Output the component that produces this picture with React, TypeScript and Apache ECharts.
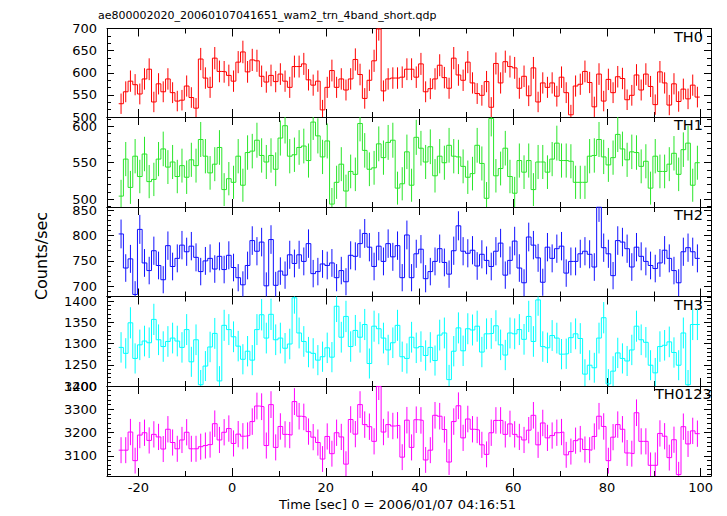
import React, { useEffect, useRef } from "react";
import * as echarts from "echarts";

const TITLE = "ae800002020_20060107041651_wam2_trn_4band_short.qdp";
const X_NAME = "Time [sec] 0 = 2006/01/07 04:16:51";
const Y_NAME = "Counts/sec";

// time bins (sec): first bin left edge and width
const BIN_START = -24.2;
const BIN_WIDTH = 1;
const X_MIN = -26.7;
const X_MAX = 102.2;

const th0 = [530, 557, 581, 573, 552, 586, 608, 534, 575, 557, 586, 555, 536, 538, 570, 544, 520, 631, 588, 567,
  633, 603, 602, 594, 581, 624, 647, 602, 629, 627, 592, 579, 594, 580, 597, 581, 567, 614, 614, 620,
  584, 572, 581, 516, 567, 605, 567, 586, 561, 586, 630, 596, 542, 583, 627, 699, 559, 586, 588, 588,
  590, 608, 608, 590, 620, 557, 564, 586, 617, 589, 565, 633, 595, 583, 624, 577, 553, 549, 580, 522,
  621, 577, 625, 614, 611, 565, 592, 548, 611, 534, 577, 567, 577, 547, 590, 555, 505, 570, 574, 603,
  578, 523, 597, 536, 585, 555, 591, 587, 539, 549, 595, 561, 597, 569, 528, 602, 577, 527, 575, 535,
  563, 541, 572, 545];

const th1 = [504, 555, 516, 559, 531, 562, 524, 527, 555, 569, 544, 551, 531, 546, 530, 554, 546, 582, 559, 536,
  548, 571, 513, 528, 523, 559, 519, 564, 566, 581, 560, 551, 560, 541, 584, 601, 559, 561, 571, 573,
  553, 606, 587, 558, 580, 493, 523, 548, 511, 538, 534, 604, 567, 541, 543, 576, 557, 578, 581, 515,
  521, 565, 519, 585, 570, 551, 572, 532, 559, 550, 574, 559, 558, 545, 530, 535, 574, 549, 501, 611,
  532, 542, 570, 531, 508, 553, 537, 553, 513, 551, 551, 537, 555, 577, 553, 553, 552, 523, 523, 523,
  559, 560, 582, 558, 547, 557, 589, 569, 554, 565, 564, 545, 552, 515, 559, 538, 538, 548, 563, 534,
  568, 577, 519, 550];

const th2 = [803, 736, 754, 684, 812, 746, 731, 770, 741, 713, 780, 739, 755, 781, 768, 779, 757, 729, 750, 755,
  734, 759, 733, 761, 737, 717, 703, 741, 790, 769, 787, 701, 792, 702, 730, 722, 762, 745, 762, 749,
  784, 725, 729, 744, 741, 746, 717, 731, 709, 761, 759, 784, 804, 777, 739, 779, 749, 784, 758, 780,
  717, 801, 717, 764, 773, 715, 729, 749, 774, 747, 724, 770, 819, 769, 765, 771, 740, 763, 751, 739,
  769, 785, 722, 751, 789, 736, 707, 797, 781, 756, 708, 777, 755, 774, 779, 726, 749, 749, 764, 769,
  763, 738, 856, 776, 764, 721, 790, 787, 774, 738, 777, 759, 749, 741, 735, 746, 771, 755, 731, 707,
  768, 776, 768, 755];

const th3 = [1291, 1277, 1349, 1265, 1297, 1306, 1302, 1357, 1309, 1293, 1305, 1313, 1306, 1291, 1333, 1257, 1309, 1203, 1247, 1292,
  1324, 1212, 1343, 1333, 1316, 1294, 1263, 1282, 1261, 1333, 1368, 1313, 1369, 1309, 1313, 1289, 1299, 1408, 1325, 1305,
  1280, 1277, 1261, 1269, 1290, 1268, 1388, 1315, 1364, 1293, 1331, 1315, 1345, 1253, 1341, 1335, 1313, 1285, 1302, 1343,
  1269, 1265, 1315, 1290, 1293, 1272, 1291, 1260, 1320, 1325, 1215, 1282, 1337, 1283, 1335, 1332, 1341, 1280, 1323, 1324,
  1342, 1297, 1273, 1325, 1323, 1333, 1310, 1364, 1305, 1403, 1293, 1290, 1319, 1313, 1275, 1276, 1314, 1323, 1312, 1228,
  1249, 1243, 1313, 1361, 1205, 1235, 1278, 1265, 1259, 1285, 1341, 1309, 1303, 1249, 1231, 1293, 1296, 1304, 1279, 1249,
  1325, 1203, 1345, 1345];

const th0123 = [3124, 3124, 3202, 3079, 3189, 3199, 3166, 3192, 3181, 3129, 3214, 3157, 3130, 3168, 3201, 3130, 3130, 3139, 3144, 3148,
  3238, 3168, 3201, 3217, 3153, 3193, 3184, 3187, 3247, 3314, 3311, 3144, 3320, 3136, 3226, 3192, 3189, 3333, 3270, 3267,
  3204, 3180, 3157, 3086, 3183, 3109, 3199, 3181, 3064, 3256, 3193, 3320, 3234, 3225, 3162, 3398, 3202, 3234, 3228, 3231,
  3094, 3253, 3136, 3255, 3252, 3082, 3124, 3274, 3270, 3213, 3073, 3247, 3315, 3177, 3258, 3214, 3211, 3147, 3106, 3199,
  3252, 3252, 3192, 3237, 3192, 3181, 3168, 3210, 3274, 3147, 3241, 3177, 3187, 3199, 3202, 3104, 3118, 3165, 3172, 3127,
  3124, 3183, 3270, 3226, 3079, 3180, 3234, 3214, 3112, 3109, 3285, 3162, 3162, 3059, 3059, 3196, 3184, 3092, 3169, 3019,
  3225, 3151, 3207, 3195];

const panelNames = ["TH0", "TH1", "TH2", "TH3", "TH0123"];
const panelSeries = [th0, th1, th2, th3, th0123];
const panelColors = ["#ff0000", "#2ae62a", "#1010ff", "#00ffff", "#ff00ff"];
const yMins = [500, 489, 680, 1200, 3013];
const yMaxs = [700, 613, 856, 1411, 3400];
const yMajor = [50, 50, 50, 50, 100];
const ySplit = [4, 2, 4, 4, 4];
const yMinorSplit = [3, 5, 5, 5, 5];

// layout (pixels)
const GRID_LEFT = 107;
const GRID_RIGHT = 16;
const gridTops = [28.5, 117, 207, 296.5, 386];
const gridBottoms = [117, 207, 296.5, 386, 476];
const FONT = '"DejaVu Sans", Verdana, sans-serif';

export default function App() {
  const ref = useRef<HTMLDivElement>(null);

  useEffect(() => {
    if (!ref.current) return;
    const chart = echarts.init(ref.current, undefined, { renderer: "svg" });
    const grids: any[] = [];
    const xAxes: any[] = [];
    const yAxes: any[] = [];
    const series: any[] = [];
    const graphics: any[] = [];

    const axisLineStyle = { color: "#000", width: 1 };

    panelSeries.forEach((vals, i) => {
      const color = panelColors[i];
      grids.push({
        left: GRID_LEFT,
        right: GRID_RIGHT,
        top: gridTops[i],
        height: gridBottoms[i] - gridTops[i],
      });
      const isBottom = i === panelSeries.length - 1;
      const xBase = {
        type: "value",
        gridIndex: i,
        min: X_MIN,
        max: X_MAX,
        splitNumber: 6,
        splitLine: { show: false },
        axisLine: { show: true, onZero: false, lineStyle: axisLineStyle },
        axisTick: { show: true, inside: true, length: 8, lineStyle: axisLineStyle },
        minorTick: { show: true, splitNumber: 2, length: 5, lineStyle: axisLineStyle },
      };
      xAxes.push({
        ...xBase,
        position: "bottom",
        axisLabel: {
          show: isBottom,
          showMinLabel: false,
          showMaxLabel: false,
          color: "#000",
          fontSize: 13,
          fontFamily: FONT,
          margin: 5,
          formatter: (v: number) => (Math.abs(v / 20 - Math.round(v / 20)) < 1e-6 ? String(Math.round(v)) : ""),
        },
      });
      xAxes.push({ ...xBase, position: "top", axisLabel: { show: false } });

      const major = yMajor[i];
      const yBase = {
        type: "value",
        gridIndex: i,
        min: yMins[i],
        max: yMaxs[i],
        splitNumber: ySplit[i],
        scale: true,
        splitLine: { show: false },
        axisLine: { show: true, onZero: false, lineStyle: axisLineStyle },
        axisTick: { show: true, inside: true, length: 7, lineStyle: axisLineStyle },
        minorTick: { show: true, splitNumber: yMinorSplit[i], length: 4, lineStyle: axisLineStyle },
      };
      yAxes.push({
        ...yBase,
        position: "left",
        axisLabel: {
          show: true,
          color: "#000",
          fontSize: 13,
          fontFamily: FONT,
          margin: 10,
          formatter: (v: number) =>
            Math.abs(v / major - Math.round(v / major)) < 1e-6 ? String(Math.round(v)) : "",
        },
      });
      yAxes.push({ ...yBase, position: "right", axisLabel: { show: false } });

      const n = vals.length;
      const stepData = vals.map((v, k) => [BIN_START + k * BIN_WIDTH, v]);
      stepData.push([BIN_START + n * BIN_WIDTH, vals[n - 1]]);
      series.push({
        type: "line",
        xAxisIndex: 2 * i,
        yAxisIndex: 2 * i,
        step: "end",
        symbol: "none",
        silent: true,
        clip: true,
        data: stepData,
        lineStyle: { color, width: 1 },
      });
      // Poisson errors of 1-s bins: sqrt(rate)
      const errData = vals.map((v, k) => [BIN_START + (k + 0.5) * BIN_WIDTH, v - Math.sqrt(v), v + Math.sqrt(v)]);
      series.push({
        type: "custom",
        xAxisIndex: 2 * i,
        yAxisIndex: 2 * i,
        clip: true,
        silent: true,
        data: errData,
        encode: { x: 0, y: [1, 2] },
        renderItem: (_p: any, api: any) => {
          const a = api.coord([api.value(0), api.value(1)]);
          const b = api.coord([api.value(0), api.value(2)]);
          return {
            type: "line",
            shape: { x1: a[0], y1: a[1], x2: b[0], y2: b[1] },
            style: { stroke: color, lineWidth: 1 },
          };
        },
      });

      const isLong = panelNames[i].length > 4;
      graphics.push({
        type: "text",
        x: isLong ? 655 : 703,
        y: gridTops[i] + 0.5,
        style: {
          text: panelNames[i],
          font: `14.5px ${FONT}`,
          fill: "#000",
          align: isLong ? "left" : "right",
          verticalAlign: "top",
          textAlign: isLong ? "left" : "right",
          textVerticalAlign: "top",
        },
      });
    });

    graphics.push({
      type: "text",
      x: 98,
      y: 15,
      style: {
        text: TITLE,
        font: `11px ${FONT}`,
        fill: "#000",
        align: "left",
        verticalAlign: "middle",
        textAlign: "left",
        textVerticalAlign: "middle",
      },
    });
    graphics.push({
      type: "text",
      x: 397.5,
      y: 504.5,
      style: {
        text: X_NAME,
        font: `13px ${FONT}`,
        fill: "#000",
        align: "center",
        verticalAlign: "middle",
        textAlign: "center",
        textVerticalAlign: "middle",
      },
    });
    graphics.push({
      type: "text",
      x: 41.5,
      y: 256,
      rotation: Math.PI / 2,
      style: {
        text: Y_NAME,
        font: `16px ${FONT}`,
        fill: "#000",
        align: "center",
        verticalAlign: "middle",
        textAlign: "center",
        textVerticalAlign: "middle",
      },
    });

    chart.setOption({
      animation: false,
      backgroundColor: "#fff",
      grid: grids,
      xAxis: xAxes,
      yAxis: yAxes,
      series,
      graphic: graphics,
    });
    return () => chart.dispose();
  }, []);

  return (
    <div
      ref={ref}
      style={{ position: "absolute", left: 0, top: 0, width: 727, height: 516, background: "#fff" }}
    />
  );
}
